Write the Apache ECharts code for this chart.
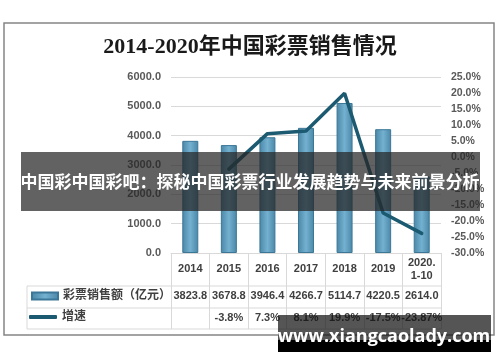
<!DOCTYPE html>
<html lang="zh">
<head>
    <meta charset="UTF-8">
    <title>2014-2020年中国彩票销售情况</title>
    <script src="https://cdn.jsdelivr.net/npm/echarts@6.0.0/dist/echarts.min.js"></script>
    <style>
        body { margin: 0; background: #fff; }
        #chart { width: 500px; height: 362px; }
    </style>
</head>
<body>
    <div id="chart"></div>
    <script>
        // data
        var years = ['2014', '2015', '2016', '2017', '2018', '2019', '2020.\n1-10'];
        var sales = [3823.8, 3678.8, 3946.4, 4266.7, 5114.7, 4220.5, 2614.0];
        var growth = [null, -3.8, 7.3, 8.1, 19.9, -17.5, -23.87];
        var salesLabels = ['3823.8', '3678.8', '3946.4', '4266.7', '5114.7', '4220.5', '2614.0'];
        var growthLabels = ['', '-3.8%', '7.3%', '8.1%', '19.9%', '-17.5%', '-23.87%'];

        // layout (px)
        var W = 500, H = 362;
        var gridL = 171, gridR = 441, gridT = 77, gridB = 253;
        var tableL = 27, row1 = 286, row2 = 308, row3 = 329;
        var lineCol = '#d9d9d9';
        var textCol = '#404040';
        var font = "'Liberation Sans', 'Noto Sans CJK SC', sans-serif";

        var chart = echarts.init(document.getElementById('chart'));

        function hline(y) {
            return { type: 'line', shape: { x1: tableL, y1: y, x2: gridR, y2: y },
                     style: { stroke: lineCol, lineWidth: 1 }, z: 5 };
        }

        var option = {
            animation: false,
            title: {
                text: '2014-2020年中国彩票销售情况',
                left: 'center',
                top: 36,
                padding: 0,
                textStyle: {
                    fontFamily: "'Liberation Serif', 'Noto Sans CJK SC', serif",
                    fontSize: 22, fontWeight: 'bold', color: '#1a1a1a'
                }
            },
            legend: [
                {
                    data: ['彩票销售额（亿元）'],
                    left: 31, top: 290, padding: 0, icon: 'rect',
                    itemWidth: 26, itemHeight: 7,
                    textStyle: { fontSize: 12, color: textCol, fontFamily: font, fontWeight: 'bold' }
                },
                {
                    data: ['增速'],
                    left: 29, top: 311, padding: 0, icon: 'roundRect',
                    itemWidth: 28, itemHeight: 4,
                    textStyle: { fontSize: 12, color: textCol, fontFamily: font, fontWeight: 'bold' }
                }
            ],
            grid: { left: gridL, right: W - gridR, top: gridT, bottom: H - gridB },
            xAxis: [
                {
                    type: 'category', data: years, position: 'bottom',
                    axisLine: { show: true, lineStyle: { color: lineCol } },
                    axisTick: { show: true, length: row3 - gridB, lineStyle: { color: lineCol } },
                    axisLabel: {
                        margin: 16, verticalAlign: 'middle', lineHeight: 13, interval: 0,
                        fontSize: 11, fontWeight: 'bold', color: textCol, fontFamily: font
                    }
                },
                {
                    type: 'category', data: salesLabels, position: 'bottom',
                    axisLine: { show: false }, axisTick: { show: false },
                    axisLabel: {
                        margin: 43, verticalAlign: 'middle', interval: 0,
                        fontSize: 11, fontWeight: 'bold', color: textCol, fontFamily: font
                    }
                },
                {
                    type: 'category', data: growthLabels, position: 'bottom',
                    axisLine: { show: false }, axisTick: { show: false },
                    axisLabel: {
                        margin: 65, verticalAlign: 'middle', interval: 0,
                        fontSize: 11, fontWeight: 'bold', color: textCol, fontFamily: font
                    }
                }
            ],
            yAxis: [
                {
                    type: 'value', min: 0, max: 6000, interval: 1000,
                    axisLine: { show: false }, axisTick: { show: false },
                    splitLine: { lineStyle: { color: lineCol } },
                    axisLabel: {
                        margin: 10, fontSize: 11, fontWeight: 'bold', color: '#595959', fontFamily: font,
                        formatter: function (v) { return v.toFixed(1); }
                    }
                },
                {
                    type: 'value', min: -30, max: 25, interval: 5,
                    axisLine: { show: false }, axisTick: { show: false },
                    splitLine: { show: false },
                    axisLabel: {
                        margin: 10, fontSize: 10.5, fontWeight: 'bold', color: '#595959', fontFamily: font,
                        formatter: function (v) { return v.toFixed(1) + '%'; }
                    }
                }
            ],
            series: [
                {
                    name: '彩票销售额（亿元）', type: 'bar', data: sales, barWidth: 16,
                    itemStyle: {
                        color: new echarts.graphic.LinearGradient(0, 0, 1, 0, [
                            { offset: 0, color: '#4a86a6' },
                            { offset: 0.5, color: '#74b1d1' },
                            { offset: 1, color: '#4a86a6' }
                        ]),
                        borderColor: '#3c7797', borderWidth: 1
                    }
                },
                {
                    name: '增速', type: 'line', data: growth, yAxisIndex: 1,
                    symbol: 'none', connectNulls: false,
                    lineStyle: { color: '#1b5a70', width: 3.5, cap: 'round' },
                    itemStyle: { color: '#1b5a70' }
                }
            ],
            graphic: [
                // chart frame
                { type: 'rect', shape: { x: 4, y: 23, width: 490, height: 312 },
                  style: { fill: 'none', stroke: '#858585', lineWidth: 1.5 }, z: 5 },
                // data table lines
                hline(row1), hline(row2), hline(row3),
                { type: 'line', shape: { x1: tableL, y1: row1, x2: tableL, y2: row3 },
                  style: { stroke: lineCol, lineWidth: 1 }, z: 5 },
                // overlay banner
                { type: 'rect', shape: { x: 21, y: 152, width: 459, height: 59 },
                  style: { fill: 'rgba(38,38,38,0.72)' }, z: 100 },
                { type: 'text', x: 250, y: 182, z: 101,
                  style: { text: '中国彩中国彩吧：探秘中国彩票行业发展趋势与未来前景分析',
                           fill: '#fff', font: "bold 17px 'Noto Sans CJK SC', sans-serif",
                           align: 'center', verticalAlign: 'middle' } },
                // watermark
                { type: 'rect', shape: { x: 278, y: 315, width: 213, height: 25 },
                  style: { fill: 'rgba(20,20,20,0.72)' }, z: 100 },
                { type: 'rect', shape: { x: 278, y: 340, width: 213, height: 12 },
                  style: { fill: '#000' }, z: 100 },
                { type: 'text', x: 384, y: 337, z: 101,
                  style: { text: 'www.xiangcaolady.com', fill: '#fff',
                           font: "bold 18px 'Open Sans', 'DejaVu Sans', sans-serif",
                           align: 'center', verticalAlign: 'middle' } }
            ]
        };

        chart.setOption(option);
    </script>
</body>
</html>
